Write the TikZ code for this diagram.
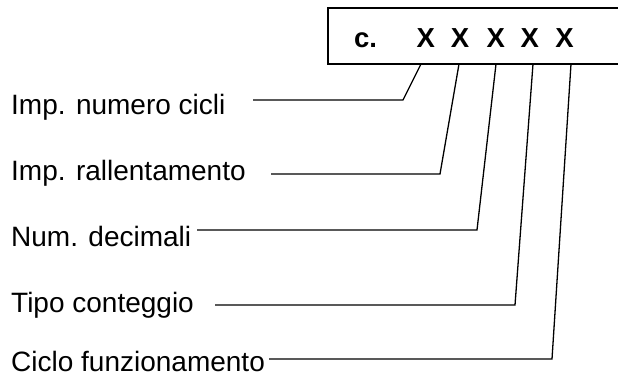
\documentclass[tikz,border=0pt]{standalone}
\usepackage{fontspec}
\setmainfont{Liberation Sans}
\usepackage{tikz}
\usetikzlibrary{calc}

\begin{document}
\begin{tikzpicture}[x=1pt, y=-1pt,
		lab/.style={anchor=base west, inner sep=0pt, font=\fontsize{28}{34}\selectfont},
		code/.style={anchor=base, inner sep=0pt, font=\fontsize{27.5}{32}\selectfont\bfseries},
		leader/.style={line width=1.3pt, line join=miter}]
		\useasboundingbox (0,0) rectangle (618,378);
		% box
		\coordinate (BL) at (328, 64);
		\coordinate (TL) at (328, 8);
		\draw[line width=2.2pt] (619, 8)--(TL)--(BL)--(619, 64);
		\node at (354, 47) [code, anchor=base west] (cc) {c.};
		\foreach \i/\x in {1/425.8, 2/460, 3/495.8, 4/529.8, 5/564.5}
			\node at (\x, 47) [code] (X\i) {X};
		% points on the box
		\coordinate (T1) at (421, 64);
		\coordinate (T2) at (459, 64);
		\coordinate (T3) at (496, 64);
		\coordinate (T4) at (533, 64);
		\coordinate (T5) at (571, 64);
		% corners
		\coordinate (C1) at (403, 100);
		\coordinate (C2) at (440, 174);
		\coordinate (C3) at (477, 230);
		\coordinate (C4) at (515, 305);
		\coordinate (C5) at (552, 359);
		% start of each line
		\coordinate (S1) at (253, 100);
		\coordinate (S2) at (271, 174);
		\coordinate (S3) at (197, 230);
		\coordinate (S4) at (215, 305);
		\coordinate (S5) at (269, 359);
		% labels
		\node at (11, 114) [lab] (L1) {Imp. numero cicli};
		\node at (11, 180) [lab] (L2) {Imp. rallentamento};
		\node at (11, 246) [lab] (L3) {Num. decimali};
		\node at (11, 312) [lab] (L4) {Tipo conteggio};
		\node at (11, 371) [lab] (L5) {Ciclo funzionamento};
		\foreach \i in {1,...,5}
			\draw[leader] (S\i)--(C\i)--(T\i);
	\end{tikzpicture}
\end{document}
